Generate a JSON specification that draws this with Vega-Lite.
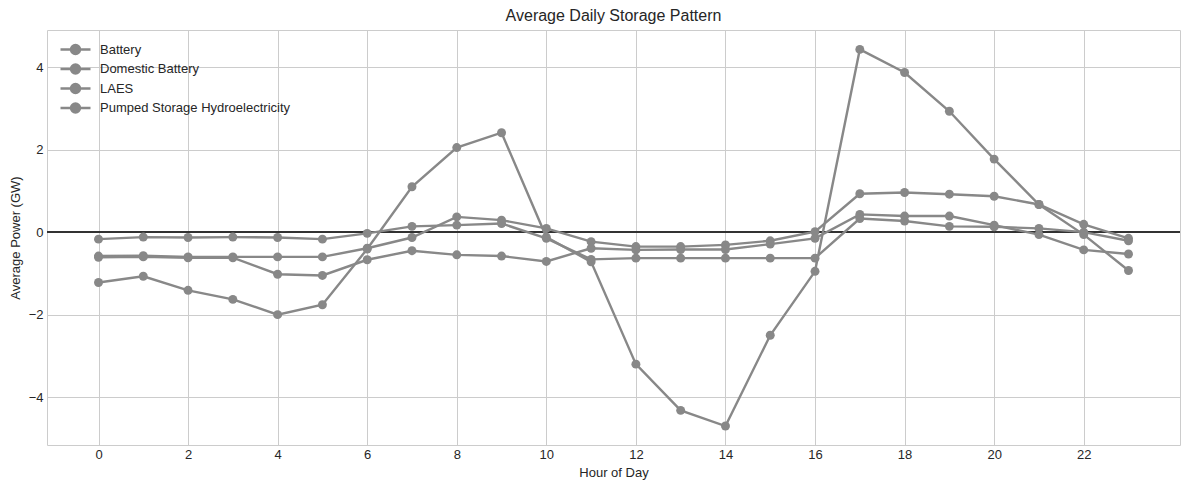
{
  "$schema": "https://vega.github.io/schema/vega-lite/v6.json",
  "autosize": {"type": "none"},
  "width": 1133,
  "height": 415,
  "padding": {"left": 47, "top": 30, "right": 9, "bottom": 45},
  "background": "white",
  "title": {
    "text": "Average Daily Storage Pattern",
    "font": "Liberation Sans",
    "fontSize": 16,
    "fontWeight": "normal",
    "color": "#262626",
    "offset": 6
  },
  "config": {
    "view": {"stroke": "#cccccc", "strokeWidth": 1},
    "axis": {
      "labelFont": "Liberation Sans",
      "labelFontSize": 13,
      "labelColor": "#262626",
      "titleFont": "Liberation Sans",
      "titleFontSize": 13,
      "titleFontWeight": "normal",
      "titleColor": "#262626",
      "gridColor": "#cccccc",
      "gridWidth": 1,
      "domain": false,
      "ticks": false
    }
  },
  "datasets": {
    "storage": [
      {"hour": 0, "tech": "Battery", "power": -0.58},
      {"hour": 1, "tech": "Battery", "power": -0.57},
      {"hour": 2, "tech": "Battery", "power": -0.6},
      {"hour": 3, "tech": "Battery", "power": -0.6},
      {"hour": 4, "tech": "Battery", "power": -0.6},
      {"hour": 5, "tech": "Battery", "power": -0.6},
      {"hour": 6, "tech": "Battery", "power": -0.39},
      {"hour": 7, "tech": "Battery", "power": -0.13},
      {"hour": 8, "tech": "Battery", "power": 0.37},
      {"hour": 9, "tech": "Battery", "power": 0.29},
      {"hour": 10, "tech": "Battery", "power": 0.09},
      {"hour": 11, "tech": "Battery", "power": -0.23},
      {"hour": 12, "tech": "Battery", "power": -0.35},
      {"hour": 13, "tech": "Battery", "power": -0.35},
      {"hour": 14, "tech": "Battery", "power": -0.31},
      {"hour": 15, "tech": "Battery", "power": -0.21},
      {"hour": 16, "tech": "Battery", "power": 0.01},
      {"hour": 17, "tech": "Battery", "power": 0.93},
      {"hour": 18, "tech": "Battery", "power": 0.96},
      {"hour": 19, "tech": "Battery", "power": 0.92},
      {"hour": 20, "tech": "Battery", "power": 0.87},
      {"hour": 21, "tech": "Battery", "power": 0.67},
      {"hour": 22, "tech": "Battery", "power": 0.19},
      {"hour": 23, "tech": "Battery", "power": -0.15},

      {"hour": 0, "tech": "Domestic Battery", "power": -0.61},
      {"hour": 1, "tech": "Domestic Battery", "power": -0.6},
      {"hour": 2, "tech": "Domestic Battery", "power": -0.62},
      {"hour": 3, "tech": "Domestic Battery", "power": -0.62},
      {"hour": 4, "tech": "Domestic Battery", "power": -1.02},
      {"hour": 5, "tech": "Domestic Battery", "power": -1.05},
      {"hour": 6, "tech": "Domestic Battery", "power": -0.67},
      {"hour": 7, "tech": "Domestic Battery", "power": -0.45},
      {"hour": 8, "tech": "Domestic Battery", "power": -0.55},
      {"hour": 9, "tech": "Domestic Battery", "power": -0.58},
      {"hour": 10, "tech": "Domestic Battery", "power": -0.71},
      {"hour": 11, "tech": "Domestic Battery", "power": -0.39},
      {"hour": 12, "tech": "Domestic Battery", "power": -0.43},
      {"hour": 13, "tech": "Domestic Battery", "power": -0.42},
      {"hour": 14, "tech": "Domestic Battery", "power": -0.42},
      {"hour": 15, "tech": "Domestic Battery", "power": -0.29},
      {"hour": 16, "tech": "Domestic Battery", "power": -0.15},
      {"hour": 17, "tech": "Domestic Battery", "power": 0.43},
      {"hour": 18, "tech": "Domestic Battery", "power": 0.39},
      {"hour": 19, "tech": "Domestic Battery", "power": 0.39},
      {"hour": 20, "tech": "Domestic Battery", "power": 0.17},
      {"hour": 21, "tech": "Domestic Battery", "power": -0.06},
      {"hour": 22, "tech": "Domestic Battery", "power": -0.43},
      {"hour": 23, "tech": "Domestic Battery", "power": -0.53},

      {"hour": 0, "tech": "LAES", "power": -0.17},
      {"hour": 1, "tech": "LAES", "power": -0.12},
      {"hour": 2, "tech": "LAES", "power": -0.13},
      {"hour": 3, "tech": "LAES", "power": -0.12},
      {"hour": 4, "tech": "LAES", "power": -0.13},
      {"hour": 5, "tech": "LAES", "power": -0.17},
      {"hour": 6, "tech": "LAES", "power": -0.03},
      {"hour": 7, "tech": "LAES", "power": 0.14},
      {"hour": 8, "tech": "LAES", "power": 0.17},
      {"hour": 9, "tech": "LAES", "power": 0.21},
      {"hour": 10, "tech": "LAES", "power": -0.15},
      {"hour": 11, "tech": "LAES", "power": -0.66},
      {"hour": 12, "tech": "LAES", "power": -0.63},
      {"hour": 13, "tech": "LAES", "power": -0.63},
      {"hour": 14, "tech": "LAES", "power": -0.63},
      {"hour": 15, "tech": "LAES", "power": -0.63},
      {"hour": 16, "tech": "LAES", "power": -0.63},
      {"hour": 17, "tech": "LAES", "power": 0.33},
      {"hour": 18, "tech": "LAES", "power": 0.27},
      {"hour": 19, "tech": "LAES", "power": 0.14},
      {"hour": 20, "tech": "LAES", "power": 0.13},
      {"hour": 21, "tech": "LAES", "power": 0.09},
      {"hour": 22, "tech": "LAES", "power": 0.0},
      {"hour": 23, "tech": "LAES", "power": -0.21},

      {"hour": 0, "tech": "Pumped Storage Hydroelectricity", "power": -1.22},
      {"hour": 1, "tech": "Pumped Storage Hydroelectricity", "power": -1.07},
      {"hour": 2, "tech": "Pumped Storage Hydroelectricity", "power": -1.41},
      {"hour": 3, "tech": "Pumped Storage Hydroelectricity", "power": -1.63},
      {"hour": 4, "tech": "Pumped Storage Hydroelectricity", "power": -2.0},
      {"hour": 5, "tech": "Pumped Storage Hydroelectricity", "power": -1.76},
      {"hour": 6, "tech": "Pumped Storage Hydroelectricity", "power": -0.41},
      {"hour": 7, "tech": "Pumped Storage Hydroelectricity", "power": 1.1},
      {"hour": 8, "tech": "Pumped Storage Hydroelectricity", "power": 2.05},
      {"hour": 9, "tech": "Pumped Storage Hydroelectricity", "power": 2.41},
      {"hour": 10, "tech": "Pumped Storage Hydroelectricity", "power": -0.12},
      {"hour": 11, "tech": "Pumped Storage Hydroelectricity", "power": -0.72},
      {"hour": 12, "tech": "Pumped Storage Hydroelectricity", "power": -3.2},
      {"hour": 13, "tech": "Pumped Storage Hydroelectricity", "power": -4.32},
      {"hour": 14, "tech": "Pumped Storage Hydroelectricity", "power": -4.7},
      {"hour": 15, "tech": "Pumped Storage Hydroelectricity", "power": -2.5},
      {"hour": 16, "tech": "Pumped Storage Hydroelectricity", "power": -0.95},
      {"hour": 17, "tech": "Pumped Storage Hydroelectricity", "power": 4.43},
      {"hour": 18, "tech": "Pumped Storage Hydroelectricity", "power": 3.87},
      {"hour": 19, "tech": "Pumped Storage Hydroelectricity", "power": 2.93},
      {"hour": 20, "tech": "Pumped Storage Hydroelectricity", "power": 1.77},
      {"hour": 21, "tech": "Pumped Storage Hydroelectricity", "power": 0.67},
      {"hour": 22, "tech": "Pumped Storage Hydroelectricity", "power": -0.06},
      {"hour": 23, "tech": "Pumped Storage Hydroelectricity", "power": -0.93}
    ]
  },
  "data": {"name": "storage"},
  "encoding": {
    "x": {
      "field": "hour",
      "type": "quantitative",
      "title": "Hour of Day",
      "scale": {"domain": [-1.15, 24.15], "nice": false, "zero": false},
      "axis": {"values": [0, 2, 4, 6, 8, 10, 12, 14, 16, 18, 20, 22], "labelPadding": 3, "titlePadding": 5}
    },
    "y": {
      "field": "power",
      "type": "quantitative",
      "title": "Average Power (GW)",
      "scale": {"domain": [-5.16, 4.9], "nice": false, "zero": false},
      "axis": {"values": [-4, -2, 0, 2, 4], "labelPadding": 4, "titlePadding": 6}
    }
  },
  "layer": [
    {
      "mark": {"type": "rule", "color": "#333333", "strokeWidth": 0.7},
      "encoding": {"y": {"datum": 0}, "x": null}
    },
    {
      "mark": {"type": "line", "strokeWidth": 2.4},
      "encoding": {
        "color": {
          "field": "tech",
          "type": "nominal",
          "scale": {
            "domain": ["Battery", "Domestic Battery", "LAES", "Pumped Storage Hydroelectricity"],
            "range": ["#888888", "#888888", "#888888", "#888888"]
          },
          "legend": {
            "title": null,
            "orient": "none",
            "legendX": 22,
            "legendY": 13,
            "padding": 0,
            "labelFont": "Liberation Sans",
            "labelFontSize": 13,
            "labelColor": "#262626",
            "labelLimit": 400,
            "labelOffset": 18,
            "rowPadding": 0.5,
            "symbolType": "M-3,0L3,0M-0.9,0A0.9,0.9 0 1,1 0.9,0A0.9,0.9 0 1,1 -0.9,0Z",
            "symbolSize": 100,
            "symbolStrokeWidth": 2.4,
            "symbolStrokeColor": "#888888",
            "symbolFillColor": "#888888",
            "symbolOpacity": 1
          }
        }
      }
    },
    {
      "mark": {"type": "point", "filled": true, "size": 80, "opacity": 1},
      "encoding": {
        "color": {"field": "tech", "type": "nominal", "legend": null}
      }
    }
  ]
}
